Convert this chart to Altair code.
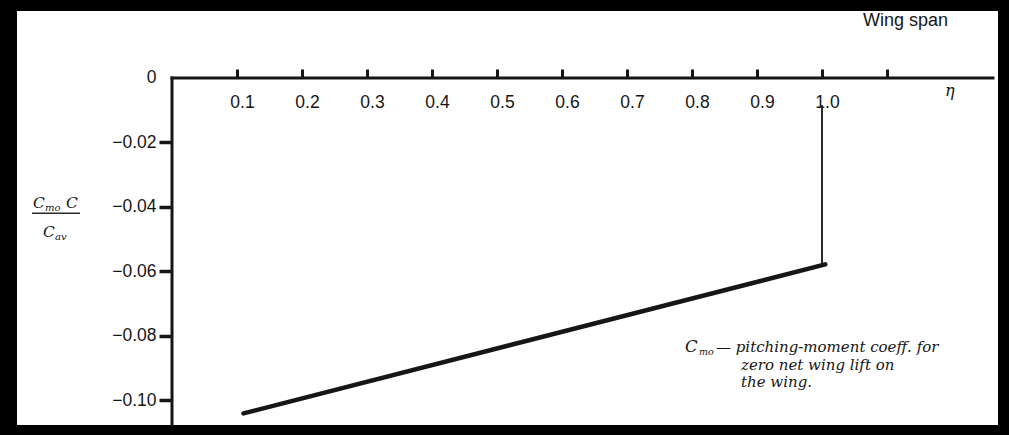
import altair as alt
import pandas as pd

# Zero-lift pitching-moment parameter along the span (straight-line distribution)
eta = [0.11, 1.005]
cm_ratio = [-0.1040, -0.0578]

# Marker at the wing tip (eta = 1.0)
tip_eta = [1.0]
tip_top = [-0.0084]
tip_bottom = [-0.0578]

# Axis tick values
x_ticks = [0.1, 0.2, 0.3, 0.4, 0.5, 0.6, 0.7, 0.8, 0.9, 1.0, 1.1]
y_ticks = [0.0, -0.02, -0.04, -0.06, -0.08, -0.10]

# Extent of the drawn axis lines
x_axis_end = [1.263]
y_axis_end = [-0.1076]

# Italic serif labels: y-axis fraction, legend note and the eta symbol
serif_text = ["C", "mo", "C", "C", "av", "C", "mo",
              "\u2014 pitching-moment coeff. for", "zero net wing lift on", "the wing.", "\u03b7"]
serif_eta = [-0.2138, -0.1954, -0.1631, -0.1985, -0.1800, 0.7892, 0.8108,
             0.8369, 0.8754, 0.8754, 1.1892]
serif_val = [-0.0403, -0.0412, -0.0403, -0.0493, -0.0502, -0.0850, -0.0859,
             -0.0850, -0.0905, -0.0958, -0.0056]
serif_size = [15.5, 10, 15.5, 15.5, 10, 16.5, 9.5, 15, 15, 15, 16]

# Fraction bar of the y-axis label
bar_eta = [-0.2154]
bar_eta2 = [-0.1415]
bar_val = [-0.0419]

# Sans-serif heading
sans_text = ["Wing span"]
sans_eta = [1.0631]
sans_val = [0.0161]

X_DOMAIN = [-0.238462, 1.270769]
Y_DOMAIN = [-0.107597, 0.020775]

INK = "#161616"
xs = alt.Scale(domain=X_DOMAIN, nice=False, zero=False)
ys = alt.Scale(domain=Y_DOMAIN, nice=False, zero=False)

line_df = pd.DataFrame({"eta": eta, "cm": cm_ratio})
tip_df = pd.DataFrame({"eta": tip_eta, "top": tip_top, "bottom": tip_bottom})
xaxis_df = pd.DataFrame({"x0": [0.0], "x1": x_axis_end, "y": [0.0]})
yaxis_df = pd.DataFrame({"x": [0.0], "y0": [0.0], "y1": y_axis_end})
serif_df = pd.DataFrame({"text": serif_text, "eta": serif_eta, "val": serif_val, "size": serif_size})
bar_df = pd.DataFrame({"x0": bar_eta, "x1": bar_eta2, "y": bar_val})
sans_df = pd.DataFrame({"text": sans_text, "eta": sans_eta, "val": sans_val})

x_axis = alt.Axis(
    orient="top", offset=-67, domain=False, grid=False, values=x_ticks,
    tickSize=9, tickWidth=3, tickColor=INK,
    labelExpr="datum.value > 1.05 ? '' : format(datum.value, '.1f')",
    labelPadding=-38, labelBaseline="alphabetic", labelOffset=5,
    labelFont="Liberation Sans", labelFontSize=17.5, labelColor=INK,
    labelFlush=False, labelOverlap=False, title=None,
)
y_axis = alt.Axis(
    orient="left", offset=-155, domain=False, grid=False, values=y_ticks,
    tickSize=13, tickWidth=3.5, tickColor=INK,
    tickOpacity={"condition": {"test": "datum.value === 0", "value": 0}, "value": 1},
    labelExpr="datum.value === 0 ? '0' : format(datum.value, '.2f')",
    labelPadding=3, labelFont="Liberation Sans", labelFontSize=17.5, labelColor=INK,
    labelFlush=False, labelOverlap=False, title=None,
)

main_line = alt.Chart(line_df).mark_line(
    color=INK, strokeWidth=4.5, strokeCap="round"
).encode(
    x=alt.X("eta:Q", scale=xs, axis=x_axis),
    y=alt.Y("cm:Q", scale=ys, axis=y_axis),
)

tip_rule = alt.Chart(tip_df).mark_rule(color="#2a2a2a", strokeWidth=2).encode(
    x=alt.X("eta:Q", scale=xs), y=alt.Y("top:Q", scale=ys), y2="bottom:Q"
)

x_axis_line = alt.Chart(xaxis_df).mark_rule(color=INK, strokeWidth=3, strokeCap="square").encode(
    x=alt.X("x0:Q", scale=xs), x2="x1:Q", y=alt.Y("y:Q", scale=ys)
)
y_axis_line = alt.Chart(yaxis_df).mark_rule(color=INK, strokeWidth=3, strokeCap="square").encode(
    x=alt.X("x:Q", scale=xs), y=alt.Y("y0:Q", scale=ys), y2="y1:Q"
)

serif_labels = alt.Chart(serif_df).mark_text(
    font="DejaVu Serif", fontStyle="italic", align="left", baseline="alphabetic", color=INK
).encode(
    x=alt.X("eta:Q", scale=xs), y=alt.Y("val:Q", scale=ys),
    text="text:N", size=alt.Size("size:Q", scale=None),
)

fraction_bar = alt.Chart(bar_df).mark_rule(color="#2a2a2a", strokeWidth=1.5).encode(
    x=alt.X("x0:Q", scale=xs), x2="x1:Q", y=alt.Y("y:Q", scale=ys)
)

sans_labels = alt.Chart(sans_df).mark_text(
    font="Liberation Sans", fontSize=18, align="left", baseline="alphabetic", color=INK
).encode(
    x=alt.X("eta:Q", scale=xs), y=alt.Y("val:Q", scale=ys), text="text:N"
)

chart = alt.layer(
    x_axis_line, y_axis_line, tip_rule, main_line, serif_labels, fraction_bar, sans_labels
).properties(
    width=981, height=414,
    padding={"left": 17, "top": 11, "right": 11, "bottom": 10},
    autosize=alt.AutoSizeParams(type="none"),
    background="black",
).configure_view(fill="white", stroke="white", strokeWidth=0)

chart.save("out.html", embed_options={"renderer": "svg", "actions": False})
